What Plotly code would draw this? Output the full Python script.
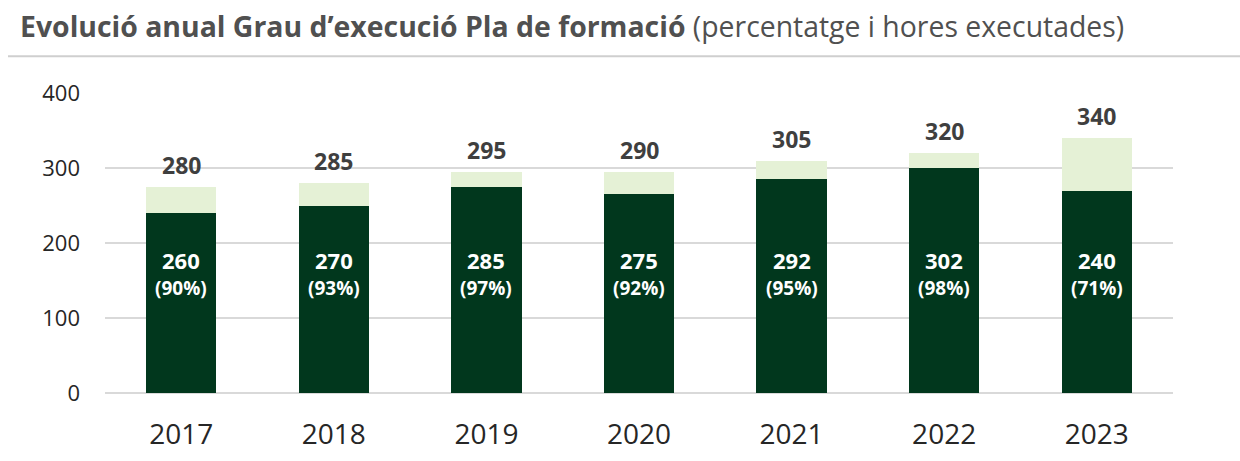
import plotly.graph_objects as go

# ---- data ----
years = ["2017", "2018", "2019", "2020", "2021", "2022", "2023"]
# bar heights as drawn in the picture
executed_bar = [240, 250, 275, 265, 285, 300, 270]
planned_bar = [275, 280, 295, 295, 310, 320, 340]
# labels printed on the chart
planned_labels = ["280", "285", "295", "290", "305", "320", "340"]
executed_labels = ["260", "270", "285", "275", "292", "302", "240"]
pct_labels = ["90%", "93%", "97%", "92%", "95%", "98%", "71%"]
y_ticks = [0, 100, 200, 300, 400]

DARK = "#01371D"
LIGHT = "#E5F1D6"
FONT = "Open Sans"

remaining = [p - e for p, e in zip(planned_bar, executed_bar)]

fig = go.Figure()
fig.add_trace(go.Bar(x=years, y=executed_bar, marker=dict(color=DARK, line=dict(width=0)),
                     width=0.46, hoverinfo="skip"))
fig.add_trace(go.Bar(x=years, y=remaining, marker=dict(color=LIGHT, line=dict(width=0)),
                     width=0.46, hoverinfo="skip"))

annotations = []
for i, yr in enumerate(years):
    annotations.append(dict(x=i, y=planned_bar[i], xref="x", yref="y", text=f"<b>{planned_labels[i]}</b>",
                            showarrow=False, yanchor="middle", yshift=22,
                            font=dict(family=FONT, size=23, color="#3F3F3F")))
    annotations.append(dict(x=i, y=178, xref="x", yref="y", text=f"<b>{executed_labels[i]}</b>",
                            showarrow=False, yanchor="middle",
                            font=dict(family=FONT, size=22, color="#FFFFFF")))
    annotations.append(dict(x=i, y=140.5, xref="x", yref="y", text=f"<b>({pct_labels[i]})</b>",
                            showarrow=False, yanchor="middle",
                            font=dict(family=FONT, size=19, color="#FFFFFF")))

fig.update_layout(
    width=1240, height=461,
    barmode="stack", showlegend=False,
    plot_bgcolor="white", paper_bgcolor="white",
    margin=dict(l=105, r=67, t=93, b=68, autoexpand=False),
    title=dict(
        text="<b>Evolució anual Grau d’execució Pla de formació</b> (percentatge i hores executades)",
        x=20 / 1240, xanchor="left", xref="container",
        y=1 - 27 / 461, yanchor="middle", yref="container",
        font=dict(family=FONT, size=28.4, color="#505050"),
    ),
    xaxis=dict(type="category", range=[-0.5, 6.5], showgrid=False, zeroline=False, showline=False,
               ticks="", tickfont=dict(family=FONT, size=28, color="#262626"), ticklabelstandoff=22,
               automargin=False, fixedrange=True),
    yaxis=dict(range=[0, 400], tickvals=y_ticks, showgrid=True, gridcolor="#D9D9D9", gridwidth=2,
               zeroline=True, zerolinecolor="#D9D9D9", zerolinewidth=2, showline=False, ticks="",
               tickfont=dict(family=FONT, size=22, color="#262626"), ticklabelstandoff=24,
               automargin=False, fixedrange=True),
    annotations=annotations,
    shapes=[dict(type="line", xref="paper", yref="paper",
                 x0=(8 - 105) / 1068, x1=(1240 - 105) / 1068,
                 y0=(392.7 - 56) / 300, y1=(392.7 - 56) / 300,
                 line=dict(color="#CFCFCF", width=2))],
)

fig.write_html("out.html", config={"displayModeBar": False},
               post_script="document.body.style.margin='0';")
